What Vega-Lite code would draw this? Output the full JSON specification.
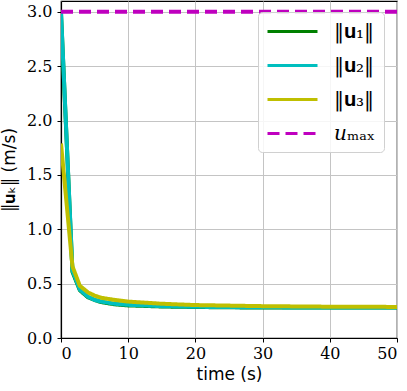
{
  "$schema": "https://vega.github.io/schema/vega-lite/v6.json",
  "width": 336,
  "height": 337,
  "autosize": "none",
  "padding": {"left": 61, "top": 1, "right": 10, "bottom": 53},
  "background": "white",
  "config": {
    "view": {"stroke": "black", "strokeWidth": 1.2},
    "axis": {
      "labelFont": "DejaVu Serif",
      "labelFontSize": 16,
      "labelColor": "black",
      "titleFont": "DejaVu Sans",
      "titleFontSize": 17,
      "titleFontWeight": "normal",
      "titleColor": "black",
      "domainColor": "black",
      "domainWidth": 1.2,
      "tickColor": "black",
      "tickSize": 4,
      "tickWidth": 1,
      "gridColor": "#c4c4c4",
      "gridWidth": 1
    },
    "legend": {
      "title": null,
      "orient": "none",
      "legendX": 197,
      "legendY": 11,
      "labelFont": "DejaVu Serif",
      "labelFontSize": 20,
      "labelColor": "black",
      "labelOffset": 45,
      "symbolType": "M-1,0H4",
      "symbolSize": 400,
      "symbolStrokeWidth": 3,
      "rowPadding": 12,
      "padding": 8,
      "fillColor": "rgba(255,255,255,0.85)",
      "strokeColor": "#d0d0d0",
      "cornerRadius": 4
    }
  },
  "data": {
    "values": [
      {"t": 0, "v": 2.99, "s": "g1"},
      {"t": 1.7, "v": 0.61, "s": "g1"},
      {"t": 2.8, "v": 0.44, "s": "g1"},
      {"t": 4, "v": 0.375, "s": "g1"},
      {"t": 5, "v": 0.35, "s": "g1"},
      {"t": 6, "v": 0.33, "s": "g1"},
      {"t": 8, "v": 0.31, "s": "g1"},
      {"t": 10, "v": 0.30, "s": "g1"},
      {"t": 15, "v": 0.29, "s": "g1"},
      {"t": 20, "v": 0.285, "s": "g1"},
      {"t": 30, "v": 0.28, "s": "g1"},
      {"t": 40, "v": 0.28, "s": "g1"},
      {"t": 50, "v": 0.28, "s": "g1"},
      {"t": 0, "v": 3.0, "s": "g2"},
      {"t": 1.7, "v": 0.62, "s": "g2"},
      {"t": 2.8, "v": 0.445, "s": "g2"},
      {"t": 4, "v": 0.38, "s": "g2"},
      {"t": 5, "v": 0.35, "s": "g2"},
      {"t": 6, "v": 0.335, "s": "g2"},
      {"t": 8, "v": 0.315, "s": "g2"},
      {"t": 10, "v": 0.305, "s": "g2"},
      {"t": 15, "v": 0.293, "s": "g2"},
      {"t": 20, "v": 0.287, "s": "g2"},
      {"t": 30, "v": 0.282, "s": "g2"},
      {"t": 40, "v": 0.281, "s": "g2"},
      {"t": 50, "v": 0.28, "s": "g2"},
      {"t": 0, "v": 1.79, "s": "g3"},
      {"t": 1.7, "v": 0.66, "s": "g3"},
      {"t": 2.8, "v": 0.48, "s": "g3"},
      {"t": 4, "v": 0.42, "s": "g3"},
      {"t": 5, "v": 0.39, "s": "g3"},
      {"t": 6, "v": 0.37, "s": "g3"},
      {"t": 8, "v": 0.35, "s": "g3"},
      {"t": 10, "v": 0.335, "s": "g3"},
      {"t": 15, "v": 0.315, "s": "g3"},
      {"t": 20, "v": 0.303, "s": "g3"},
      {"t": 30, "v": 0.293, "s": "g3"},
      {"t": 40, "v": 0.288, "s": "g3"},
      {"t": 50, "v": 0.286, "s": "g3"},
      {"t": 0, "v": 3.0, "s": "um"},
      {"t": 50, "v": 3.0, "s": "um"}
    ]
  },
  "mark": {"type": "line", "strokeWidth": 4, "clip": true},
  "encoding": {
    "x": {
      "field": "t", "type": "quantitative",
      "scale": {"domain": [0, 50], "nice": false, "zero": false},
      "axis": {"values": [0, 10, 20, 30, 40, 50], "title": "time (s)", "labelPadding": 3, "titlePadding": 5, "format": "d"}
    },
    "y": {
      "field": "v", "type": "quantitative",
      "scale": {"domain": [0, 3.1], "nice": false, "zero": false},
      "axis": {"values": [0, 0.5, 1, 1.5, 2, 2.5, 3], "format": ".1f", "title": "‖𝐮ₖ‖ (m/s)", "labelPadding": 5, "titlePadding": 8}
    },
    "color": {
      "field": "s", "type": "nominal",
      "scale": {"domain": ["g1", "g2", "g3", "um"], "range": ["#008000", "#00bfbf", "#bfbf00", "#bf00bf"]},
      "legend": {
        "labelExpr": "datum.value == 'g1' ? '‖𝐮₁‖' : datum.value == 'g2' ? '‖𝐮₂‖' : datum.value == 'g3' ? '‖𝐮₃‖' : '𝑢ₘₐₓ'"
      }
    },
    "strokeDash": {
      "field": "s", "type": "nominal",
      "scale": {"domain": ["g1", "g2", "g3", "um"], "range": [[1, 0], [1, 0], [1, 0], [12, 6]]},
      "legend": {
        "labelExpr": "datum.value == 'g1' ? '‖𝐮₁‖' : datum.value == 'g2' ? '‖𝐮₂‖' : datum.value == 'g3' ? '‖𝐮₃‖' : '𝑢ₘₐₓ'"
      }
    },
    "order": {"field": "t", "type": "quantitative"}
  }
}
